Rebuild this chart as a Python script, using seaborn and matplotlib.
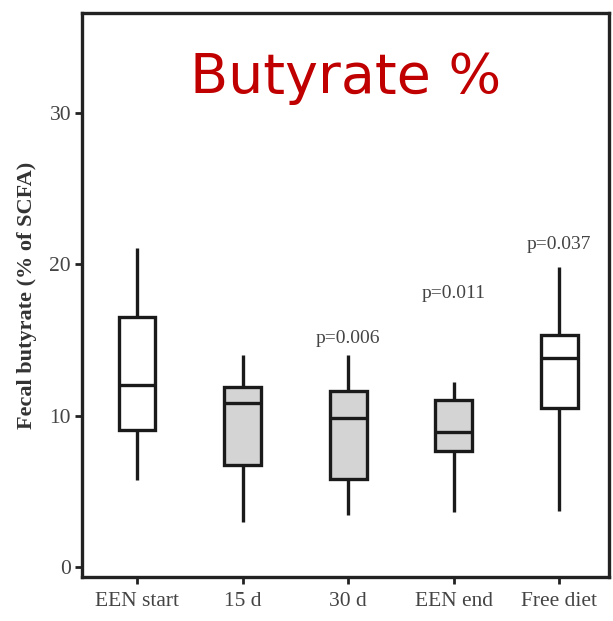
import matplotlib
matplotlib.use("Agg")
import matplotlib.pyplot as plt
import seaborn as sns
import pandas as pd
import numpy as np

# Five-number summaries (whisker low, Q1, median, Q3, whisker high) per time point
groups = ["EEN start", "15 d", "30 d", "EEN end", "Free diet"]
een_start = [5.75, 9.05, 12.0, 16.5, 21.1]
day_15 = [3.0, 6.75, 10.8, 11.9, 14.0]
day_30 = [3.45, 5.8, 9.85, 11.6, 14.0]
een_end = [3.6, 7.65, 8.9, 11.0, 12.2]
free_diet = [3.7, 10.5, 13.8, 15.3, 19.8]
fill_colors = ["white", "#d4d4d4", "#d4d4d4", "#d4d4d4", "white"]

p_labels = {"30 d": ("p=0.006", 15.1), "EEN end": ("p=0.011", 18.1), "Free diet": ("p=0.037", 21.3)}
yticks = [0, 10, 20, 30]

series = [een_start, day_15, day_30, een_end, free_diet]
df = pd.DataFrame({
    "group": np.repeat(groups, [len(s) for s in series]),
    "value": np.concatenate(series),
})

sns.set_style("ticks")
plt.rcParams["font.family"] = ["Liberation Serif", "DejaVu Serif"]

fig = plt.figure(figsize=(6.13, 6.21), dpi=100)
ax = fig.add_axes([0.134, 0.071, 0.859, 0.908])

sns.boxplot(data=df, x="group", y="value", order=groups, hue="group",
            palette=dict(zip(groups, fill_colors)), legend=False,
            whis=(0, 100), width=0.35, linewidth=2.4, linecolor="#1a1a1a",
            showcaps=False, fliersize=0, ax=ax)

for g, (txt, yv) in p_labels.items():
    ax.text(groups.index(g), yv, txt, ha="center", va="center",
            fontsize=14, color="#444444")

ax.text(0.5, 0.858, "Butyrate %", transform=ax.transAxes, ha="center",
        va="baseline", fontsize=40, color="#c00000", family="DejaVu Sans")

ax.set_ylim(-0.66, 36.6)
ax.set_xlim(-0.52, 4.47)
ax.set_yticks(yticks)
ax.set_xlabel("")
ax.set_ylabel("Fecal butyrate (% of SCFA)", fontsize=16, fontweight="bold",
              color="#333333", labelpad=9)
ax.tick_params(axis="both", direction="out", length=5, width=2,
               labelsize=15.5, labelcolor="#444444", color="#222222")
ax.tick_params(axis="y", pad=3)
ax.tick_params(axis="x", pad=6)
for s in ax.spines.values():
    s.set_visible(True)
    s.set_linewidth(2.4)
    s.set_color("#222222")

fig.savefig("out.png", dpi=100)
